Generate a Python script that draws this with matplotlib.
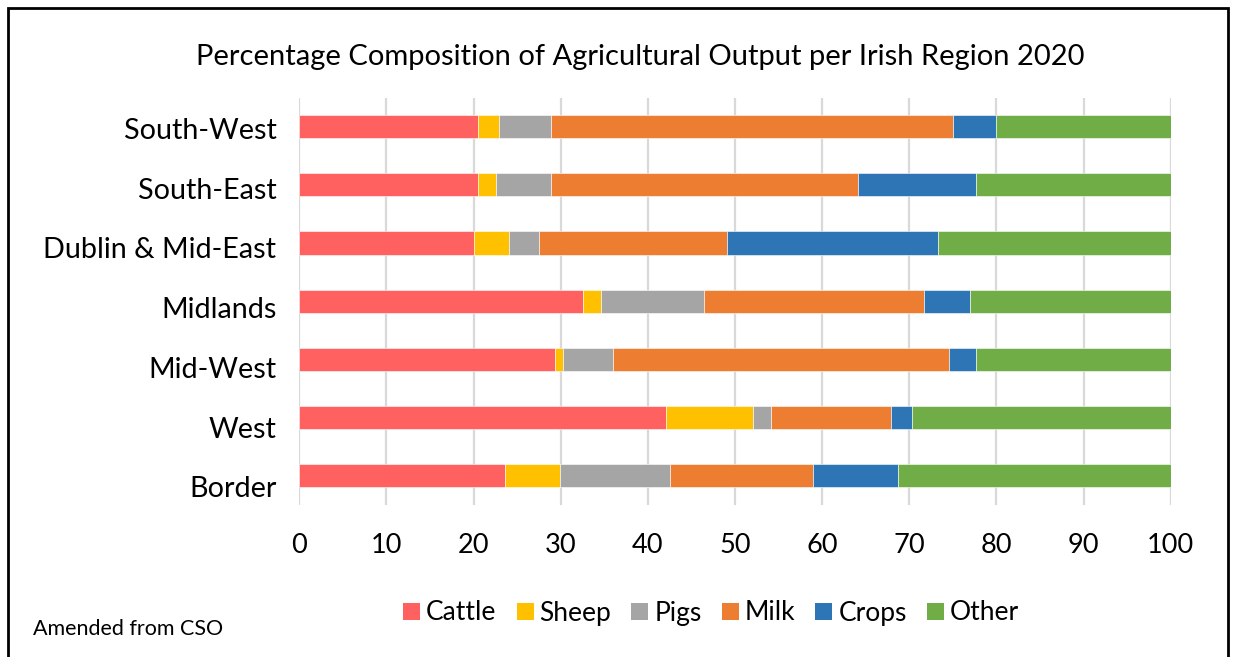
import matplotlib
matplotlib.use("Agg")
import matplotlib.pyplot as plt
from matplotlib.patches import Rectangle, Patch
import numpy as np

regions = ["Border", "West", "Mid-West", "Midlands", "Dublin & Mid-East", "South-East", "South-West"]
series = ["Cattle", "Sheep", "Pigs", "Milk", "Crops", "Other"]
cattle = [23.6, 42.1, 29.3, 32.5, 20.1, 20.5, 20.5]
sheep = [6.3, 10.0, 1.0, 2.1, 4.0, 2.1, 2.4]
pigs = [12.6, 2.0, 5.7, 11.8, 3.4, 6.3, 6.0]
milk = [16.5, 13.8, 38.6, 25.3, 21.6, 35.2, 46.1]
crops = [9.7, 2.4, 3.1, 5.3, 24.2, 13.6, 5.0]
other = [31.3, 29.7, 22.3, 23.0, 26.7, 22.3, 20.0]
colors = ["#FF6161", "#FFC000", "#A5A5A5", "#ED7D31", "#2E75B6", "#70AD47"]
xticks = [0, 10, 20, 30, 40, 50, 60, 70, 80, 90, 100]

plt.rcParams['font.family'] = ['Lato', 'DejaVu Sans']

W, H = 1240, 657
fig = plt.figure(figsize=(W / 100, H / 100), dpi=100)
ax = fig.add_axes([299.3 / W, 1 - 504.8 / H, (1170.7 - 299.3) / W, (504.8 - 97.5) / H])

data = [cattle, sheep, pigs, milk, crops, other]
y = np.arange(len(regions))
left = np.zeros(len(regions))
for vals, name, c in zip(data, series, colors):
    v = np.array(vals)
    ax.barh(y, v, left=left, height=0.4, color=c, label=name, zorder=3,
            edgecolor="white", linewidth=0.4)
    left += v

ax.set_xlim(0, 100)
ax.set_ylim(-0.5, len(regions) - 0.5)
ax.set_xticks(xticks)
ax.set_xticklabels([str(t) for t in xticks])
# category labels sit slightly lower than bar centres, as in the original Excel chart
ax.set_yticks(y - 0.19 + 0.026 * y)
ax.set_yticklabels(regions)
ax.tick_params(axis='both', length=0, colors='black')
ax.tick_params(axis='x', pad=20, labelsize=19.5)
ax.tick_params(axis='y', pad=16.5, labelsize=20.7)
ax.grid(axis='x', color='#D9D9D9', linewidth=1.6, zorder=0)
for s in ax.spines.values():
    s.set_visible(False)

fig.text(640.5 / W, 1 - 57 / H, "Percentage Composition of Agricultural Output per Irish Region 2020",
         ha='center', va='center', fontsize=21)

handles = [Patch(facecolor=c, edgecolor='none') for c in colors]
fig.legend(handles, series, loc='center', bbox_to_anchor=(711 / W, 1 - 613 / H),
           ncol=6, frameon=False, fontsize=19, handlelength=0.64, handleheight=0.64,
           handletextpad=0.23, columnspacing=0.76, borderaxespad=0)

fig.text(33 / W, 1 - 629 / H, "Amended from CSO", ha='left', va='center', fontsize=15.5)

fig.patches.append(Rectangle((8 / W, -0.05), (1228 - 8) / W, 1.05 - 7.5 / H,
                             transform=fig.transFigure, fill=False, edgecolor='black',
                             linewidth=2))

fig.savefig("out.png", dpi=100)
